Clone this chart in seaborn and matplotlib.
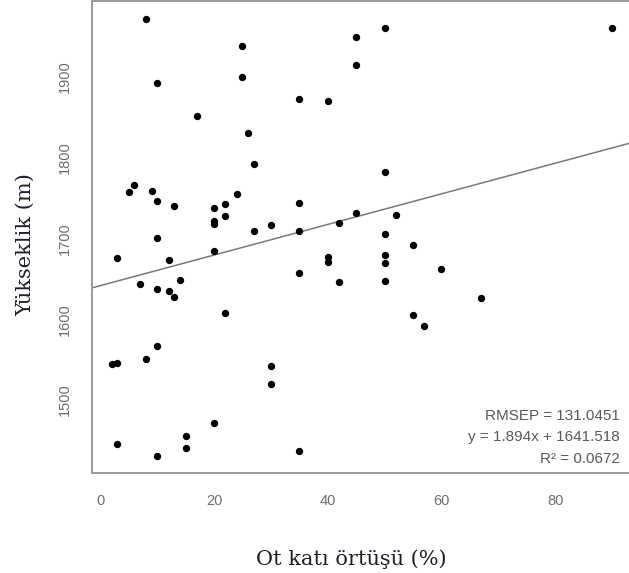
import numpy as np
import pandas as pd
import matplotlib
matplotlib.use("Agg")
import matplotlib.pyplot as plt
import seaborn as sns

# herb layer cover (%) and elevation (m)
cover = [8, 25, 25, 10, 35, 17, 26, 27, 6, 5, 9, 10, 13, 20, 22, 24, 22, 20,
         20, 27, 30, 35, 35, 10, 50, 45, 45, 40, 50, 45, 42, 52, 50, 55, 90,
         40, 40, 50, 50, 35, 42, 50, 60, 67, 55, 57, 35, 3, 20, 12, 7, 10,
         12, 13, 14, 22, 10, 8, 2, 3, 30, 30, 20, 15, 15, 3, 10]
elevation = [1972, 1938, 1900, 1893, 1873, 1851, 1830, 1792, 1766, 1757,
             1759, 1746, 1740, 1738, 1743, 1755, 1728, 1722, 1718, 1709,
             1716, 1744, 1709, 1700, 1960, 1949, 1915, 1870, 1782, 1731,
             1719, 1729, 1706, 1692, 1960, 1677, 1671, 1680, 1670, 1657,
             1646, 1647, 1662, 1626, 1605, 1591, 1437, 1676, 1684, 1673,
             1644, 1637, 1635, 1628, 1648, 1608, 1567, 1551, 1544, 1546,
             1542, 1520, 1471, 1456, 1441, 1446, 1431]

# fitted model as reported on the chart
slope = 1.894
intercept = 1641.518
stats_lines = ["RMSEP = 131.0451", "y = 1.894x + 1641.518", "R² = 0.0672"]

x_ticks = [0, 20, 40, 60, 80]
y_ticks = [1500, 1600, 1700, 1800, 1900]

df = pd.DataFrame({"cover": cover, "elevation": elevation})

sns.set_style("white")
plt.rcParams["font.family"] = ["Liberation Sans", "DejaVu Sans"]

fig = plt.figure(figsize=(6.29, 5.73), dpi=100)
ax = fig.add_axes([0.1458, 0.1742, 0.859, 0.8237])

# R-style 4% padding around the data range
xr = df["cover"].max() - df["cover"].min()
yr = df["elevation"].max() - df["elevation"].min()
xlim = (df["cover"].min() - 0.04 * xr, df["cover"].max() + 0.04 * xr)
ylim = (df["elevation"].min() - 0.04 * yr, df["elevation"].max() + 0.04 * yr)

sns.scatterplot(data=df, x="cover", y="elevation", color="black", s=28,
                linewidth=0, ax=ax, zorder=3)

line_x = np.array(xlim)
line_df = pd.DataFrame({"x": line_x, "y": slope * line_x + intercept})
sns.lineplot(data=line_df, x="x", y="y", color="#7a7a7a", linewidth=1.1, ax=ax)

ax.set_xlim(xlim)
ax.set_ylim(ylim)
ax.set_xticks(x_ticks)
ax.set_yticks(y_ticks)
ax.tick_params(direction="out", length=5, width=1, color="#8a8a8a",
               labelcolor="#6e6e6e", labelsize=10.5)
ax.tick_params(axis="x", pad=10)
ax.tick_params(axis="y", pad=9)
for lbl in ax.get_yticklabels():
    lbl.set_rotation(90)
    lbl.set_va("center")

for side in ["left", "bottom", "top"]:
    ax.spines[side].set_color("#9a9a9a")
    ax.spines[side].set_linewidth(1.4)
ax.spines["right"].set_visible(False)

ax.set_xlabel("Ot katı örtüşü (%)", fontsize=15, family="DejaVu Serif",
              color="#1e1e2a", va="center")
ax.xaxis.set_label_coords(0.48, -0.182)
ax.set_ylabel("Yükseklik (m)", fontsize=15, family="DejaVu Serif",
              color="#1e1e2a", va="center")
ax.yaxis.set_label_coords(-0.1216, 0.4835)

for txt, ypos in zip(stats_lines, [0.274, 0.2365, 0.199]):
    fig.text(0.9857, ypos, txt, ha="right", va="center", fontsize=11,
             color="#5a5a5a")

fig.savefig("out.png", dpi=100)
